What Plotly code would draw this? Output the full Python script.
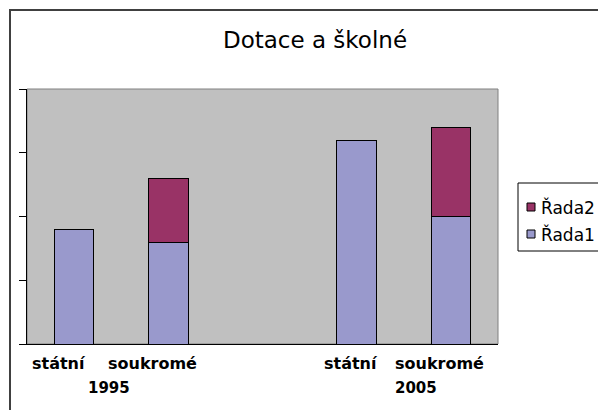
import plotly.graph_objects as go

# ---- data ----
years = ["1995", "1995", "", "2005", "2005"]
types = ["státní", "soukromé", "", "státní", "soukromé"]
rada1 = [45, 40, None, 80, 50]
rada2 = [None, 25, None, None, 35]
series_names = ["Řada1", "Řada2"]
series_colors = ["#9999CC", "#993366"]
y_ticks = [0, 25, 50, 75, 100]

# page has an 8px body margin; work in reference-pixel coords and shift
OFF = 8
W, H = 606, 418 - 2 * OFF
L, R, T, B = 27 - OFF, 498 - OFF, 89 - OFF, 344 - OFF  # plot area in figure px


def px(x):  # reference page pixel -> paper x
    return (x - OFF - L) / (R - L)


def py(y):  # reference page pixel -> paper y
    return (B - (y - OFF)) / (B - T)


def hline(x0, x1, y, color, width):
    return dict(type="line", xref="paper", yref="paper", x0=px(x0), x1=px(x1),
                y0=py(y), y1=py(y), line=dict(color=color, width=width))


def vline(x, y0, y1, color, width):
    return dict(type="line", xref="paper", yref="paper", x0=px(x), x1=px(x),
                y0=py(y0), y1=py(y1), line=dict(color=color, width=width))


xpos = list(range(len(types)))
FONT = "DejaVu Sans, Verdana, sans-serif"

fig = go.Figure()
for name, vals, col in zip(series_names, [rada1, rada2], series_colors):
    fig.add_trace(go.Bar(x=xpos, y=vals, name=name, width=0.42,
                         marker=dict(color=col, line=dict(color="black", width=1))))

fig.update_layout(
    width=W, height=H,
    margin=dict(l=L, r=W - R, t=T, b=H - B, autoexpand=False),
    barmode="stack",
    paper_bgcolor="white",
    plot_bgcolor="#C0C0C0",
    font=dict(family=FONT, color="black"),
    title=dict(text="Dotace a školné", x=(315 - OFF) / W, xanchor="center",
               y=1 - (40 - OFF) / H, yanchor="middle",
               font=dict(size=23, family=FONT)),
    showlegend=False,
    xaxis=dict(range=[-0.5, len(types) - 0.5], showticklabels=False, ticks="",
               showgrid=False, zeroline=False, showline=True, linecolor="black",
               linewidth=1, fixedrange=True),
    yaxis=dict(range=[y_ticks[0], y_ticks[-1]], tickvals=y_ticks, ticks="outside",
               ticklen=7, tickcolor="black", showticklabels=False, showgrid=False,
               zeroline=False, showline=True, linecolor="black", linewidth=1,
               fixedrange=True),
)

shapes = [
    dict(type="rect", xref="paper", yref="paper", x0=0, x1=1, y0=0, y1=1,
         line=dict(color="#808080", width=1), layer="below"),
    # outer chart-area border (only top and left edges are in view)
    hline(9, 640, 10, "#404040", 2),
    vline(10, 9, 450, "#404040", 2),
    # legend box (runs past the right edge)
    hline(518, 640, 183, "black", 1),
    hline(518, 640, 251, "black", 1),
    vline(518, 183, 251, "black", 1),
]
annotations = []
# legend entries (reversed order, as in stacked chart)
leg_rows = [207, 234]
for row_y, name, col in zip(leg_rows, series_names[::-1], series_colors[::-1]):
    shapes.append(dict(type="rect", xref="paper", yref="paper",
                       x0=px(527), x1=px(535), y0=py(row_y + 4), y1=py(row_y - 4),
                       line=dict(color="black", width=1), fillcolor=col))
    annotations.append(dict(x=px(539), y=py(row_y), xref="paper", yref="paper",
                            text=name, showarrow=False, xanchor="left",
                            yanchor="middle", font=dict(size=17, family=FONT)))

# category labels (two levels)
lab_offsets = [-0.16, -0.17, 0, -0.06, -0.12]
for i, t in enumerate(types):
    if t:
        annotations.append(dict(x=i + lab_offsets[i], y=py(363), xref="x", yref="paper",
                                text="<b>%s</b>" % t, showarrow=False,
                                font=dict(size=16, family=FONT), xanchor="center",
                                yanchor="middle"))
groups = {}
for i, yv in enumerate(years):
    if yv:
        groups.setdefault(yv, []).append(i)
year_offsets = {"1995": -0.13, "2005": 0.13}
for yv, idx in groups.items():
    cx = (idx[0] + idx[-1]) / 2 + year_offsets[yv]
    annotations.append(dict(x=cx, y=py(388), xref="x", yref="paper",
                            text="<b>%s</b>" % yv, showarrow=False,
                            font=dict(size=15, family=FONT), xanchor="center",
                            yanchor="middle"))
fig.update_layout(shapes=shapes, annotations=annotations)

fig.write_html("out.html")
